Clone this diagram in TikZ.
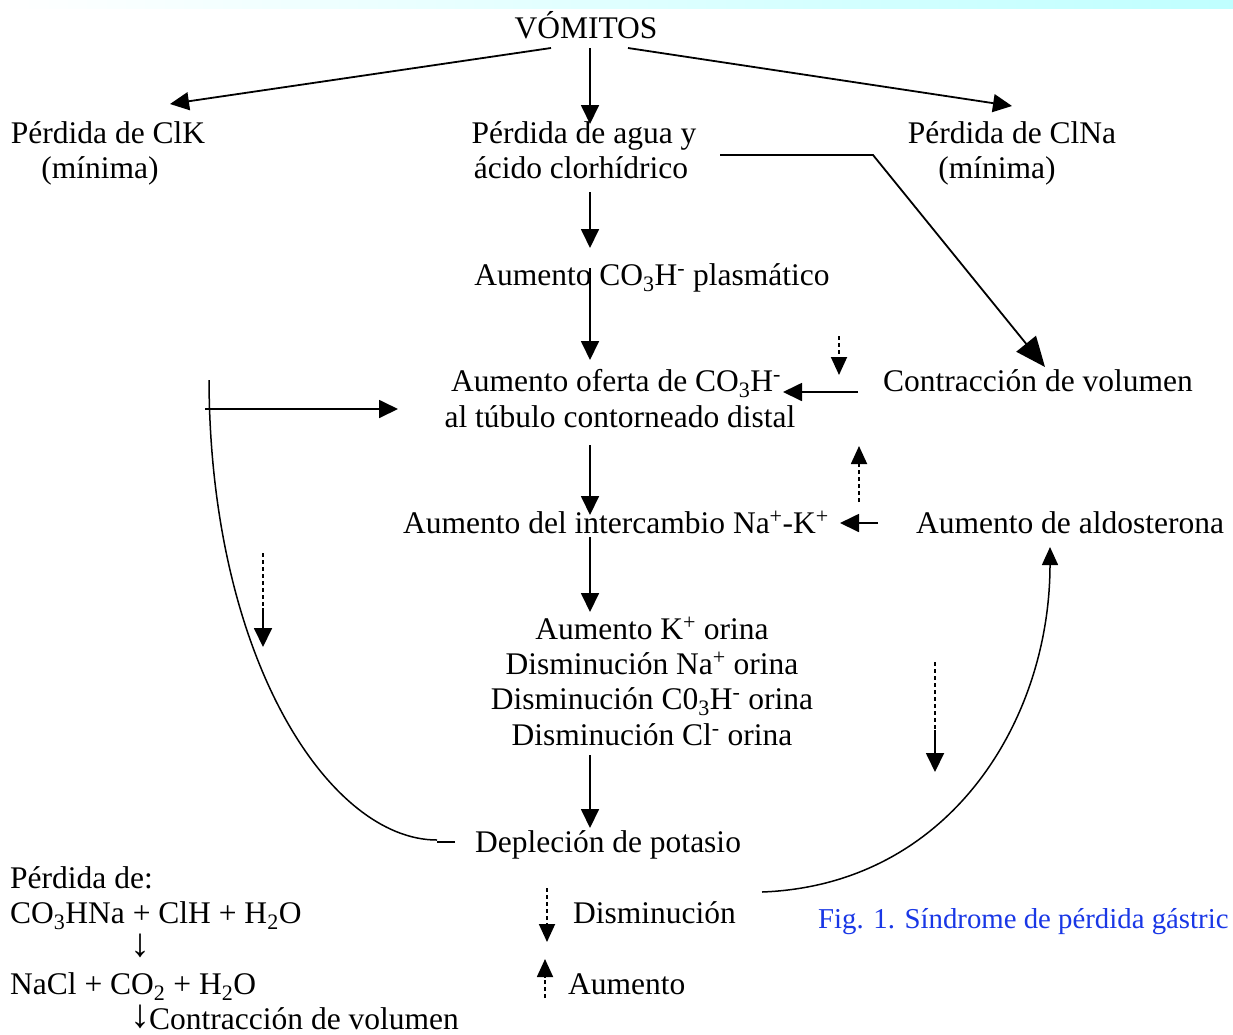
\documentclass[tikz,border=0pt]{standalone}
\usepackage{fontspec}
\setmainfont{Liberation Serif}
\usetikzlibrary{arrows.meta}
\definecolor{figblue}{RGB}{25,55,230}
\newcommand{\bigdown}{\raisebox{2pt}[0pt][0pt]{\fontsize{40}{35}\selectfont ↓}}
\begin{document}
\begin{tikzpicture}[x=1pt,y=-1pt,
  txt/.style={inner sep=0pt, anchor=base, font=\fontsize{31.5}{35}\selectfont},
  txtl/.style={txt, anchor=base west},
  arr/.style={line width=1.8pt, -{Triangle[length=19pt,width=18pt]}},
  bigarr/.style={line width=1.8pt, -{Triangle[length=30pt,width=25pt]}},
  curve/.style={line width=1.5pt},
  dots/.style={line width=1.8pt, dash pattern=on 4pt off 3pt},
  dotarr/.style={dots, -{Triangle[length=18pt,width=16pt]}},
]
\useasboundingbox (0,0) rectangle (1233,1034);
\fill[white] (0,0) rectangle (1233,1034);
\shade[left color=white, right color=cyan!25] (0,0) rectangle (1233,8);

% nodes
\node[txt] (vom) at (586,38) {VÓMITOS};
\node[txt] (clk1) at (108,143) {Pérdida de ClK};
\node[txt] (clk2) at (100,178) {(mínima)};
\node[txt] (agua1) at (584,143) {Pérdida de agua y};
\node[txt] (agua2) at (581,178) {ácido clorhídrico};
\node[txt] (clna1) at (1012,143) {Pérdida de ClNa};
\node[txt] (clna2) at (997,178) {(mínima)};
\node[txt] (plasma) at (652,285) {Aumento CO\textsubscript{3}H\textsuperscript{-} plasmático};
\node[txt] (oferta1) at (616,391) {Aumento oferta de CO\textsubscript{3}H\textsuperscript{-}};
\node[txt] (oferta2) at (620,427) {al túbulo contorneado distal};
\node[txt] (contr) at (1038,391) {Contracción de volumen};
\node[txt] (interc) at (616,533) {Aumento del intercambio Na\textsuperscript{+}-K\textsuperscript{+}};
\node[txt] (aldo) at (1070,533) {Aumento de aldosterona};
\node[txt] (or1) at (652,639) {Aumento K\textsuperscript{+} orina};
\node[txt] (or2) at (652,674) {Disminución Na\textsuperscript{+} orina};
\node[txt] (or3) at (652,709) {Disminución C0\textsubscript{3}H\textsuperscript{-} orina};
\node[txt] (or4) at (652,745) {Disminución Cl\textsuperscript{-} orina};
\node[txt] (deple) at (608,852) {Depleción de potasio};
\node[txtl] (perd) at (10,888) {Pérdida de:};
\node[txtl] (eq1) at (10,923) {CO\textsubscript{3}HNa + ClH + H\textsubscript{2}O};
\node[txt] (eqa) at (140,958) {\bigdown};
\node[txtl] (eq2) at (10,994) {NaCl + CO\textsubscript{2} + H\textsubscript{2}O};
\node[txtl] (eq3) at (130,1029) {\bigdown\kern-1pt Contracción de volumen};
\node[txtl] (dism) at (573,923) {Disminución};
\node[txtl] (aum) at (568,994) {Aumento};
\node[txtl, font=\fontsize{28.8}{33}\selectfont, text=figblue] (fig) at (818,928) {Fig. 1. Síndrome de pérdida gástric};

% main arrows
\draw[arr] ([shift={(-35,10)}]vom.base) -- ([shift={(62,-39)}]clk1.base);
\draw[arr] ([shift={(4,10)}]vom.base) -- ([shift={(6,-19)}]agua1.base);
\draw[arr] ([shift={(42,10)}]vom.base) -- ([shift={(0,-37)}]clna1.base);
\draw[bigarr] ([shift={(139,-23)}]agua2.base) -- ++(153,0) -- ([shift={(7,-24)}]contr.base);
\draw[arr] ([shift={(9,14)}]agua2.base) -- ([shift={(-62,-37)}]plasma.base);
\draw[arr] ([shift={(-62,-17)}]plasma.base) -- ([shift={(-26,-31)}]oferta1.base);
\draw[arr] ([shift={(-180,1)}]contr.base) -- ([shift={(167,1)}]oferta1.base);
\draw[arr] ([shift={(-30,18)}]oferta2.base) -- ([shift={(-26,-18)}]interc.base);
\draw[arr] ([shift={(-26,4)}]interc.base) -- ([shift={(-62,-27)}]or1.base);
\draw[arr] ([shift={(-192,-10)}]aldo.base) -- ([shift={(224,-10)}]interc.base);
\draw[arr] ([shift={(-62,10)}]or4.base) -- ([shift={(-18,-24)}]deple.base);

% left loop
\coordinate (lstart) at (205,409);
\draw[arr] (lstart) -- ([shift={(-218,18)}]oferta1.base);
\coordinate (ltop) at (209,380);
\draw[curve] ([shift={(-153,-10)}]deple.base) -- ++(-18,0);
\draw[curve] ([shift={(-171,-12)}]deple.base)
  .. controls (330,840) and (210,660) .. (ltop);

% right loop
\draw[curve, -{Triangle[length=18pt,width=16pt]}] ([shift={(154,40)}]deple.base)
  .. controls (950,885) and (1050,720) .. ([shift={(-20,14)}]aldo.base);

% dotted arrows
\coordinate (a1) at (839,336); \coordinate (a2) at (839,375);
\draw[dotarr] (a1) -- (a2);
\coordinate (b1) at (859,502); \coordinate (b2) at (859,446);
\draw[dotarr] (b1) -- (b2);
\coordinate (c1) at (263,553); \coordinate (c2) at (263,608); \coordinate (c3) at (263,647);
\draw[dots] (c1) -- (c2);
\draw[arr] (c2) -- (c3);
\coordinate (e1) at (935,662); \coordinate (e2) at (935,730); \coordinate (e3) at (935,772);
\draw[dots] (e1) -- (e2);
\draw[arr] (e2) -- (e3);

% legend arrows
\coordinate (d1) at (547,888); \coordinate (d2) at (547,942);
\draw[dotarr] (d1) -- (d2);
\coordinate (u1) at (545,998); \coordinate (u2) at (545,959);
\draw[dotarr] (u1) -- (u2);
\end{tikzpicture}
\end{document}
